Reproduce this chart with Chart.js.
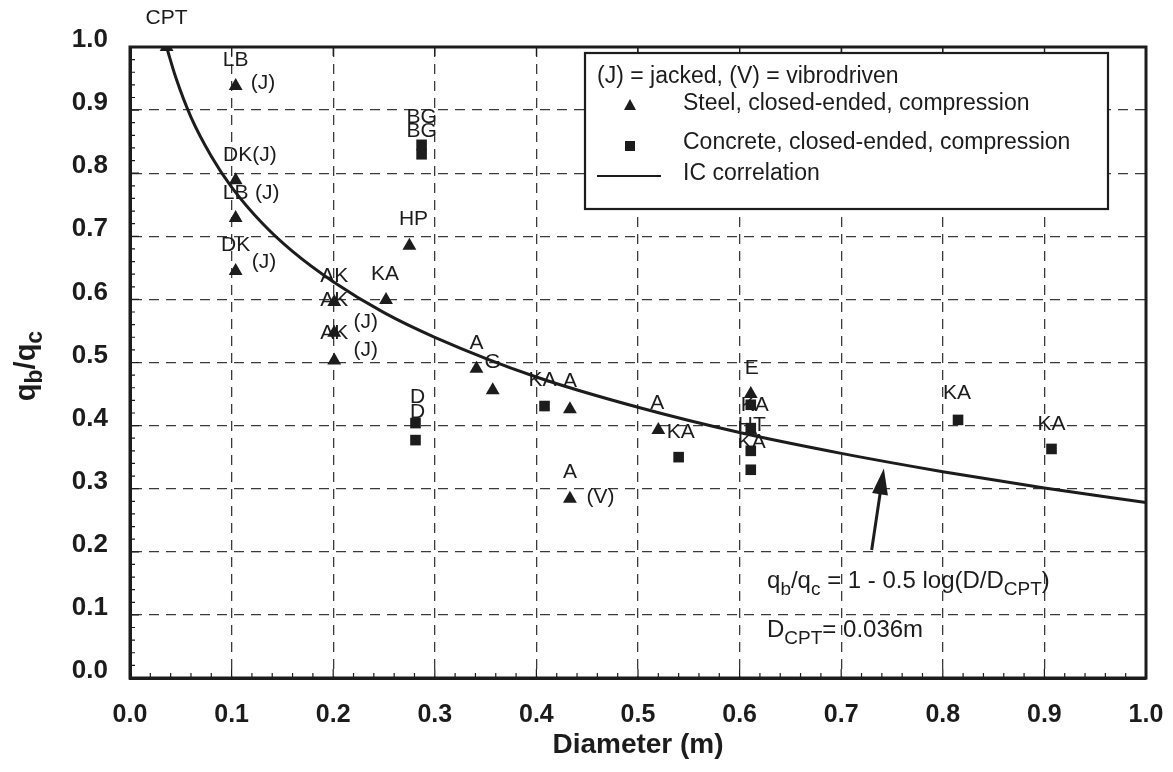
<!DOCTYPE html>
<html>
<head>
<meta charset="utf-8">
<script src="https://cdn.jsdelivr.net/npm/chart.js@4.4.0/dist/chart.umd.min.js"></script>
<style>
  html, body { margin: 0; padding: 0; background: #fff; }
  #wrap { width: 1173px; height: 772px; }
</style>
</head>
<body>
<div id="wrap"><canvas id="chart" width="1173" height="772"></canvas></div>
<script>
// --- DATA ---
// Steel, closed-ended, compression (triangles): [diameter m, qb/qc]
const steelD = [0.036, 0.104, 0.104, 0.104, 0.104, 0.201, 0.201, 0.201, 0.252, 0.275, 0.341, 0.357, 0.433, 0.433, 0.520, 0.611, 0.611];
const steelQ = [1.000, 0.938, 0.789, 0.729, 0.645, 0.596, 0.547, 0.503, 0.599, 0.685, 0.490, 0.456, 0.426, 0.284, 0.393, 0.450, 0.392];

// Concrete, closed-ended, compression (squares)
const concreteD = [0.287, 0.287, 0.281, 0.281, 0.408, 0.540, 0.611, 0.611, 0.611, 0.611, 0.815, 0.907];
const concreteQ = [0.845, 0.830, 0.404, 0.377, 0.431, 0.350, 0.433, 0.396, 0.360, 0.330, 0.409, 0.363];

// IC correlation curve
const curveD = [0.036, 0.045, 0.06, 0.08, 0.10, 0.13, 0.16, 0.20, 0.25, 0.30, 0.40, 0.50, 0.60, 0.70, 0.80, 0.90, 1.00];
const curveQ = [1.000, 0.952, 0.889, 0.827, 0.778, 0.721, 0.676, 0.628, 0.579, 0.540, 0.477, 0.429, 0.389, 0.356, 0.327, 0.301, 0.278];

// Point labels: text, diameter, qb/qc
const labelText = ['CPT', 'LB', '(J)', 'DK(J)', 'LB', '(J)', 'DK', '(J)', 'AK', 'AK', 'AK', '(J)', '(J)', 'KA', 'HP', 'BG', 'BG', 'D', 'D',
                   'A', 'G', 'KA', 'A', 'A', '(V)', 'A', 'KA', 'E', 'KA', 'HT', 'KA', 'KA', 'KA'];
const labelD = [0.036, 0.104, 0.131, 0.118, 0.104, 0.135, 0.104, 0.132, 0.201, 0.201, 0.201, 0.232, 0.232, 0.251, 0.279, 0.287, 0.287, 0.283, 0.283,
                0.341, 0.357, 0.406, 0.433, 0.433, 0.463, 0.519, 0.542, 0.612, 0.615, 0.612, 0.612, 0.814, 0.907];
const labelQ = [1.046, 0.979, 0.943, 0.829, 0.769, 0.769, 0.686, 0.659, 0.636, 0.599, 0.547, 0.564, 0.520, 0.640, 0.727, 0.889, 0.867, 0.445, 0.422,
                0.531, 0.501, 0.472, 0.471, 0.326, 0.287, 0.436, 0.390, 0.491, 0.433, 0.401, 0.374, 0.452, 0.403];

const xTicks = [0, 0.1, 0.2, 0.3, 0.4, 0.5, 0.6, 0.7, 0.8, 0.9, 1.0];
const yTicks = [0, 0.1, 0.2, 0.3, 0.4, 0.5, 0.6, 0.7, 0.8, 0.9, 1.0];

const INK = '#1c1c1c';
const FONT = "'Liberation Sans', Arial, sans-serif";

const toPts = (xs, ys) => xs.map((x, i) => ({ x: x, y: ys[i] }));

// draw text with subscripts: parts = [[text, isSub], ...]
function drawRich(ctx, parts, x, y, size, weight, subScale) {
    let cx = x;
    parts.forEach(([t, sub]) => {
        ctx.font = `${weight} ${sub ? Math.round(size * subScale) : size}px ${FONT}`;
        ctx.fillText(t, cx, sub ? y + size * 0.3 : y);
        cx += ctx.measureText(t).width;
    });
    return cx - x;
}
function richWidth(ctx, parts, size, weight, subScale) {
    let w = 0;
    parts.forEach(([t, sub]) => {
        ctx.font = `${weight} ${sub ? Math.round(size * subScale) : size}px ${FONT}`;
        w += ctx.measureText(t).width;
    });
    return w;
}

// --- PLUGIN: frame, ticks, labels, legend, annotations ---
const decorations = {
    id: 'decorations',
    beforeDraw(chart) {
        const ctx = chart.ctx;
        ctx.save();
        ctx.fillStyle = '#fff';
        ctx.fillRect(0, 0, chart.width, chart.height);
        ctx.restore();
    },
    afterDatasetsDraw(chart) {
        const { ctx, scales: { x, y } } = chart;
        ctx.save();
        ctx.fillStyle = INK;
        ctx.textAlign = 'center';
        ctx.textBaseline = 'middle';
        ctx.font = `21px ${FONT}`;
        labelText.forEach((t, i) => {
            ctx.fillText(t, x.getPixelForValue(labelD[i]), y.getPixelForValue(labelQ[i]));
        });

        // arrow pointing at the curve
        const tx = x.getPixelForValue(0.742), ty = y.getPixelForValue(0.332);
        const sx = x.getPixelForValue(0.730), sy = y.getPixelForValue(0.203);
        const ang = Math.atan2(ty - sy, tx - sx);
        ctx.strokeStyle = INK;
        ctx.lineWidth = 3;
        ctx.beginPath();
        ctx.moveTo(sx, sy);
        ctx.lineTo(tx - 18 * Math.cos(ang), ty - 18 * Math.sin(ang));
        ctx.stroke();
        ctx.beginPath();
        ctx.moveTo(tx, ty);
        ctx.lineTo(tx - 26 * Math.cos(ang) + 8 * Math.sin(ang), ty - 26 * Math.sin(ang) - 8 * Math.cos(ang));
        ctx.lineTo(tx - 26 * Math.cos(ang) - 8 * Math.sin(ang), ty - 26 * Math.sin(ang) + 8 * Math.cos(ang));
        ctx.closePath();
        ctx.fill();

        // equation text
        ctx.textAlign = 'left';
        ctx.textBaseline = 'alphabetic';
        const ex = x.getPixelForValue(0.627);
        drawRich(ctx, [['q', 0], ['b', 1], ['/q', 0], ['c', 1], [' = 1 - 0.5 log(D/D', 0], ['CPT', 1], [')', 0]],
            ex, y.getPixelForValue(0.143), 24, 'normal', 0.8);
        drawRich(ctx, [['D', 0], ['CPT', 1], ['= 0.036m', 0]],
            ex, y.getPixelForValue(0.065), 24, 'normal', 0.8);
        ctx.restore();
    },
    afterDraw(chart) {
        const { ctx, chartArea: ca, scales: { x, y } } = chart;
        ctx.save();
        ctx.strokeStyle = INK;

        // minor and major ticks
        ctx.lineWidth = 1.2;
        ctx.beginPath();
        for (let i = 0; i <= 50; i++) {
            const v = i / 50;
            const major = i % 5 === 0;
            const len = major ? 9 : 5;
            const px = x.getPixelForValue(v), py = y.getPixelForValue(v);
            ctx.moveTo(px, ca.bottom); ctx.lineTo(px, ca.bottom - len);
            ctx.moveTo(ca.left, py); ctx.lineTo(ca.left + len, py);
            if (major) {
                ctx.moveTo(px, ca.top); ctx.lineTo(px, ca.top + len);
            }
        }
        ctx.stroke();

        // frame
        ctx.lineWidth = 3;
        ctx.strokeRect(ca.left, ca.top, ca.right - ca.left, ca.bottom - ca.top);

        // legend box
        const bx = ca.left + 455, by = ca.top + 6, bw = 523, bh = 156;
        ctx.fillStyle = '#fff';
        ctx.fillRect(bx, by, bw, bh);
        ctx.lineWidth = 2.2;
        ctx.strokeRect(bx, by, bw, bh);
        ctx.fillStyle = INK;
        ctx.font = `23px ${FONT}`;
        ctx.textBaseline = 'middle';
        ctx.textAlign = 'left';
        ctx.fillText('(J) = jacked, (V) = vibrodriven', bx + 12, by + 24);
        ctx.fillText('Steel, closed-ended, compression', bx + 98, by + 51);
        ctx.fillText('Concrete, closed-ended, compression', bx + 98, by + 90);
        ctx.fillText('IC correlation', bx + 98, by + 121);
        // triangle marker
        const mx = bx + 45;
        ctx.beginPath();
        ctx.moveTo(mx, by + 46); ctx.lineTo(mx + 6, by + 57); ctx.lineTo(mx - 6, by + 57);
        ctx.closePath(); ctx.fill();
        ctx.fillRect(mx - 5, by + 88, 10, 10);
        ctx.lineWidth = 2;
        ctx.beginPath();
        ctx.moveTo(bx + 12, by + 123); ctx.lineTo(bx + 76, by + 123);
        ctx.stroke();

        // y axis title with subscripts
        ctx.translate(30, 366);
        ctx.rotate(-Math.PI / 2);
        const parts = [['q', 0], ['b', 1], ['/q', 0], ['c', 1]];
        const w = richWidth(ctx, parts, 29, 'bold', 0.78);
        ctx.textBaseline = 'middle';
        drawRich(ctx, parts, -w / 2, -3, 29, 'bold', 0.78);
        ctx.restore();
    }
};

// --- CHART ---
new Chart(document.getElementById('chart').getContext('2d'), {
    type: 'scatter',
    data: {
        datasets: [
            {
                label: 'Steel, closed-ended, compression',
                data: toPts(steelD, steelQ),
                pointStyle: 'triangle',
                pointRadius: 8,
                backgroundColor: INK,
                borderColor: INK,
                borderWidth: 0
            },
            {
                label: 'Concrete, closed-ended, compression',
                data: toPts(concreteD, concreteQ),
                pointStyle: 'rect',
                pointRadius: 7.5,
                backgroundColor: INK,
                borderColor: INK,
                borderWidth: 0
            },
            {
                label: 'IC correlation',
                data: toPts(curveD, curveQ),
                showLine: true,
                pointRadius: 0,
                borderColor: INK,
                borderWidth: 3,
                cubicInterpolationMode: 'monotone',
                fill: false
            }
        ]
    },
    options: {
        responsive: false,
        animation: false,
        events: [],
        layout: { padding: { top: 47, right: 27, left: 0, bottom: 0 } },
        plugins: {
            legend: { display: false },
            tooltip: { enabled: false }
        },
        scales: {
            x: {
                type: 'linear',
                min: 0,
                max: 1,
                afterFit: (scale) => { scale.height = 94; scale.paddingRight = 0; scale.paddingLeft = 0; },
                afterBuildTicks: (scale) => { scale.ticks = xTicks.map(v => ({ value: v })); },
                ticks: {
                    padding: 22,
                    color: INK,
                    font: { family: FONT, size: 25, weight: 'bold' },
                    callback: (v) => v.toFixed(1)
                },
                grid: { color: '#3a3a3a', lineWidth: 1.3, drawTicks: false },
                border: { display: true, color: INK, width: 3, dash: [10, 7] },
                title: {
                    display: true,
                    text: 'Diameter (m)',
                    color: INK,
                    font: { family: FONT, size: 28, weight: 'bold' },
                    padding: { top: 0, bottom: 10 }
                }
            },
            y: {
                type: 'linear',
                min: 0,
                max: 1,
                afterFit: (scale) => { scale.width = 130; scale.paddingTop = 0; scale.paddingBottom = 0; },
                afterBuildTicks: (scale) => { scale.ticks = yTicks.map(v => ({ value: v })); },
                ticks: {
                    padding: 22,
                    labelOffset: -7,
                    color: INK,
                    font: { family: FONT, size: 26, weight: 'bold' },
                    callback: (v) => v.toFixed(1)
                },
                grid: { color: '#3a3a3a', lineWidth: 1.3, drawTicks: false },
                border: { display: true, color: INK, width: 3, dash: [10, 7] }
            }
        }
    },
    plugins: [decorations]
});
</script>
</body>
</html>
